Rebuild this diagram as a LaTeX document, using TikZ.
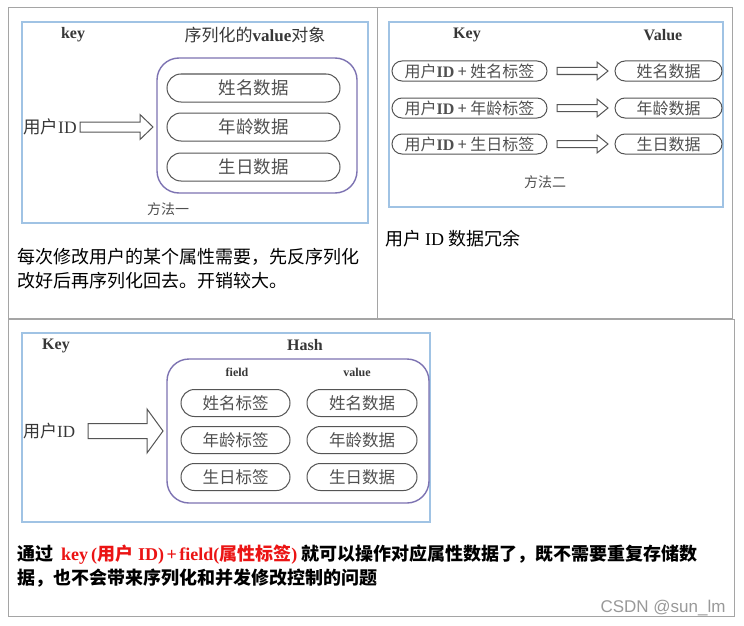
\documentclass[tikz,border=0pt]{standalone}
\usepackage{fontspec}
\setmainfont{Liberation Serif}
\newfontfamily\cjk{Noto Sans CJK SC}
\newfontfamily\csdnfont{Liberation Sans}
\usetikzlibrary{shapes.misc}
\XeTeXlinebreaklocale "zh"
\XeTeXlinebreakskip=0pt plus 3pt

\definecolor{tableline}{RGB}{165,165,165}
\definecolor{panelblue}{RGB}{160,195,228}
\definecolor{groupviolet}{RGB}{125,115,178}
\definecolor{pillgray}{RGB}{85,85,85}
\definecolor{pilltext}{RGB}{80,80,80}
\definecolor{inktext}{RGB}{55,55,55}
\definecolor{keyred}{RGB}{235,20,20}

\newcommand{\hollowarrow}[6]{% from x, at y, head x, tip x, shaft half, head half
\draw[blockarrow] (#1,{#2-#5}) -- (#3,{#2-#5}) -- (#3,{#2-#6}) -- (#4,#2)
  -- (#3,{#2+#6}) -- (#3,{#2+#5}) -- (#1,{#2+#5}) -- cycle;}

\tikzset{
  tableframe/.style={draw=tableline, line width=1pt},
  panel/.style={draw=panelblue, line width=1.2pt},
  group/.style={draw=groupviolet, line width=1.4pt, rounded corners=22pt},
  pill/.style={draw=pillgray, line width=1pt, rounded rectangle, inner sep=0pt,
    text=pilltext, font=\cjk\fontsize{16.5}{16.5}\selectfont},
  blockarrow/.style={draw=pillgray, line width=1pt, fill=white},
  heading/.style={text=inktext, font=\bfseries\fontsize{16}{16}\selectfont},
  subheading/.style={text=inktext, font=\bfseries\fontsize{12}{12}\selectfont},
  method/.style={text=pilltext, font=\cjk\fontsize{14}{14}\selectfont},
  caption/.style={anchor=west, inner sep=0pt, font=\cjk\fontsize{18}{24}\selectfont},
}

\begin{document}
\begin{tikzpicture}[x=1pt,y=-1pt]
\useasboundingbox[fill=white] (0,0) rectangle (744,626);
% table frames
\draw[tableframe] (8,8) rectangle (732,318);
\draw[tableframe] (377,8) -- (377,318);
\draw[tableframe] (8,319) rectangle (734,616);

% method one
\draw[panel] (22,22) rectangle (368,223);
\node[heading] (key1) at (73,35) {key};
\node[heading, font=\bfseries\fontsize{17}{17}\selectfont] (obj1) at (255,35) {{\cjk\mdseries 序列化的}value{\cjk\mdseries 对象}};
\draw[group] (157,58) rectangle (357,193);
\node[pill, minimum width=173pt, minimum height=28pt, font=\cjk\fontsize{17.5}{17.5}\selectfont] (name1) at (253.5,88) {姓名数据};
\node[pill, minimum width=173pt, minimum height=28pt, font=\cjk\fontsize{17.5}{17.5}\selectfont] (age1) at (253.5,127) {年龄数据};
\node[pill, minimum width=173pt, minimum height=28pt, font=\cjk\fontsize{17.5}{17.5}\selectfont] (birth1) at (253.5,167) {生日数据};
\node[heading, anchor=west, inner sep=0pt, font=\fontsize{17.5}{17.5}\selectfont] (uid1) at (23,127) {{\cjk 用户}ID};
\hollowarrow{80}{127}{140}{153}{5}{12.5}
\node[method] (way1) at (168,209) {方法一};
\node[caption] (text1a) at (17,257) {每次修改用户的某个属性需要，先反序列化};
\node[caption] (text1b) at (17,281) {改好后再序列化回去。开销较大。};

% method two
\draw[panel] (389,22) rectangle (723,207);
\node[heading] (key2) at (467,35) {Key};
\node[heading] (val2) at (663,35) {Value};
\node[pill, minimum width=155pt, minimum height=20pt, font=\cjk\fontsize{16}{16}\selectfont] (kname2) at (469.5,71) {用户{\rmfamily\bfseries ID} + 姓名标签};
\node[pill, minimum width=155pt, minimum height=20pt, font=\cjk\fontsize{16}{16}\selectfont] (kage2) at (469.5,108) {用户{\rmfamily\bfseries ID} + 年龄标签};
\node[pill, minimum width=155pt, minimum height=20pt, font=\cjk\fontsize{16}{16}\selectfont] (kbirth2) at (469.5,144) {用户{\rmfamily\bfseries ID} + 生日标签};
\hollowarrow{557}{71}{597}{608}{3.5}{9}
\hollowarrow{557}{108}{597}{608}{3.5}{9}
\hollowarrow{557}{144}{597}{608}{3.5}{9}
\node[pill, minimum width=107pt, minimum height=20pt, font=\cjk\fontsize{16}{16}\selectfont] (vname2) at (668.5,71) {姓名数据};
\node[pill, minimum width=107pt, minimum height=20pt, font=\cjk\fontsize{16}{16}\selectfont] (vage2) at (668.5,108) {年龄数据};
\node[pill, minimum width=107pt, minimum height=20pt, font=\cjk\fontsize{16}{16}\selectfont] (vbirth2) at (668.5,144) {生日数据};
\node[method] (way2) at (545,182) {方法二};
\node[caption] (text2) at (385,239) {用户 {\rmfamily ID} 数据冗余};

% hash
\draw[panel] (22,333) rectangle (430,522);
\node[heading] (key3) at (56,346) {Key};
\node[heading] (hash3) at (305,345) {Hash};
\draw[group] (167,359) rectangle (429,503);
\node[subheading] (field3) at (237,372) {field};
\node[subheading] (value3) at (357,372) {value};
\node[pill, minimum width=109pt, minimum height=27pt] (fname3) at (235.5,403) {姓名标签};
\node[pill, minimum width=109pt, minimum height=27pt] (fage3) at (235.5,440) {年龄标签};
\node[pill, minimum width=109pt, minimum height=27pt] (fbirth3) at (235.5,477) {生日标签};
\node[pill, minimum width=110pt, minimum height=27pt] (vname3) at (362,403) {姓名数据};
\node[pill, minimum width=110pt, minimum height=27pt] (vage3) at (362,440) {年龄数据};
\node[pill, minimum width=110pt, minimum height=27pt] (vbirth3) at (362,477) {生日数据};
\node[heading, anchor=west, inner sep=0pt, font=\fontsize{17}{17}\selectfont] (uid3) at (23,431) {{\cjk 用户}ID};
\hollowarrow{88}{431}{147}{163}{7.5}{22}
\node[caption, font=\cjk\bfseries\fontsize{18}{24}\selectfont] (text3a) at (17,555) {\makebox[701pt][s]{通过\hspace*{8pt}\textcolor{keyred}{{\rmfamily key\hspace*{3pt}(}用户{\rmfamily\hspace*{5pt}ID)\hspace*{2.5pt}+\hspace*{2.5pt}field(}属性标签{\rmfamily )}}\hspace*{4pt}就可以操作对应属性数据了，既不需要重复存储数}};
\node[caption, font=\cjk\bfseries\fontsize{18}{24}\selectfont] (text3b) at (17,578) {据，也不会带来序列化和并发修改控制的问题};
\node[anchor=east, text=black!40, font=\csdnfont\fontsize{17}{17}\selectfont] (mark) at (729,608) {CSDN @sun\_lm};
\end{tikzpicture}
\end{document}
